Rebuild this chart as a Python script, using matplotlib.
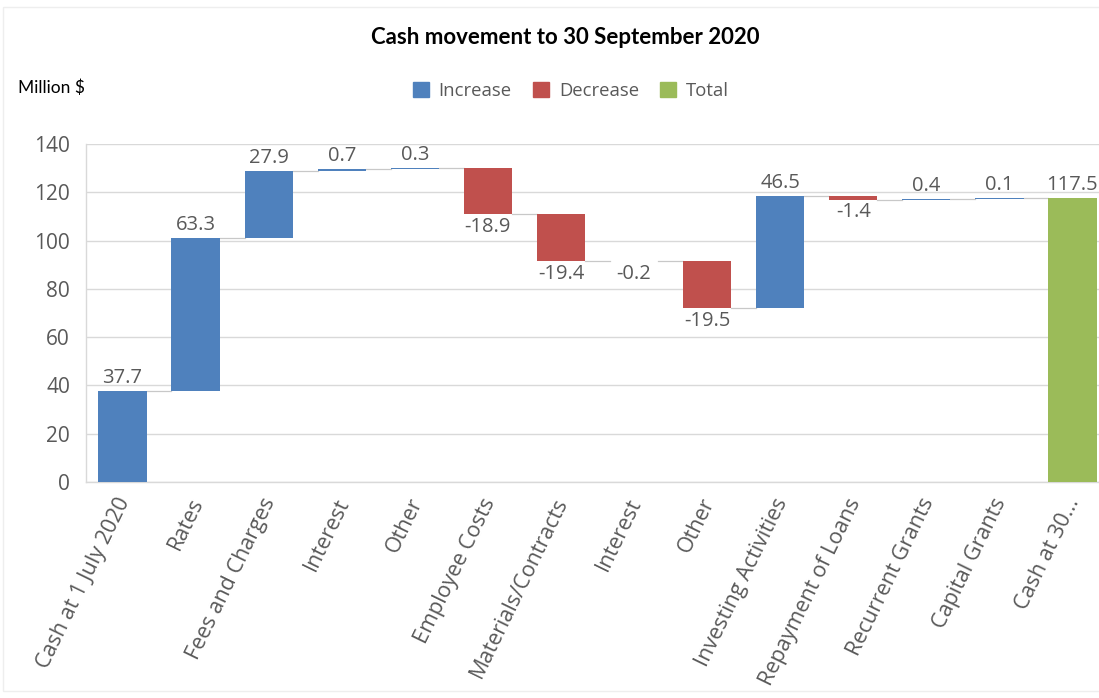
import matplotlib
matplotlib.use("Agg")
import matplotlib.pyplot as plt
from matplotlib.patches import Patch, Rectangle
import numpy as np

categories = ["Cash at 1 July 2020", "Rates", "Fees and Charges", "Interest", "Other",
              "Employee Costs", "Materials/Contracts", "Interest", "Other",
              "Investing Activities", "Repayment of Loans", "Recurrent Grants",
              "Capital Grants", "Cash at 30..."]
changes = [37.7, 63.3, 27.9, 0.7, 0.3, -18.9, -19.4, -0.2, -19.5, 46.5, -1.4, 0.4, 0.1]
total_value = 117.5
y_ticks = [0, 20, 40, 60, 80, 100, 120, 140]

BLUE = "#4F81BD"
RED = "#C0504D"
GREEN = "#9BBB59"
GRAY_TXT = "#595959"
FAM = ["Open Sans", "DejaVu Sans"]

fig = plt.figure(figsize=(10.99, 6.98), dpi=100)
fig.patch.set_facecolor("white")
ax = fig.add_axes([86/1099, (698-482)/698, 1023/1099, 338/698])

n = len(categories)
x = np.arange(n)
width = 0.66

bottoms = []
heights = []
colors = []
running = 0.0
for v in changes:
    if v >= 0:
        bottoms.append(running)
        heights.append(v)
        colors.append(BLUE)
    else:
        bottoms.append(running + v)
        heights.append(-v)
        colors.append(RED)
    running += v
bottoms.append(0)
heights.append(total_value)
colors.append(GREEN)

ax.bar(x, heights, width=width, bottom=bottoms, color=colors, zorder=3)

# connectors
levels = np.cumsum(changes)
for i in range(n - 1):
    lvl = levels[i]
    ax.plot([x[i] + width/2, x[i+1] - width/2], [lvl, lvl], color="#C8C8C8", lw=0.9, zorder=2)

# labels
vals = changes + [total_value]
for i, v in enumerate(vals):
    top = bottoms[i] + heights[i]
    if v >= 0:
        ax.text(x[i], top + 1.2, f"{v:.1f}", ha="center", va="bottom", fontsize=14.5,
                color=GRAY_TXT, family=FAM)
    else:
        ax.text(x[i], bottoms[i] - 1.2, f"{v:.1f}", ha="center", va="top", fontsize=14.5,
                color=GRAY_TXT, family=FAM)

ax.set_ylim(0, 140)
ax.set_xlim(-0.5, n - 0.5)
ax.set_yticks(y_ticks)
ax.set_yticklabels([str(t) for t in y_ticks], fontsize=15, color=GRAY_TXT, family=FAM)
# tick marks are hidden; label anchors shifted slightly left to match reference placement
ax.set_xticks(x - 0.1)
ax.set_xticklabels(categories, rotation=64, ha="right", rotation_mode="anchor",
                   fontsize=15.5, color=GRAY_TXT, family=FAM)
ax.tick_params(axis="both", length=0)
ax.tick_params(axis="y", pad=11.5)
ax.tick_params(axis="x", pad=9)
ax.grid(axis="y", color="#D9D9D9", lw=1, zorder=0)
ax.set_axisbelow(True)
for s in ["top", "right"]:
    ax.spines[s].set_visible(False)
for s in ["left", "bottom"]:
    ax.spines[s].set_color("#D9D9D9")
    ax.spines[s].set_linewidth(1)

fig.text(565/1099, 1 - 37/698, "Cash movement to 30 September 2020", ha="center", va="center",
         fontsize=16, fontweight="bold", family="Lato", color="black")
fig.text(18/1099, 1 - 88/698, "Million $", ha="left", va="center", fontsize=12.5,
         family="Lato", color="black")

handles = [Patch(color=BLUE, label="Increase"), Patch(color=RED, label="Decrease"),
           Patch(color=GREEN, label="Total")]
leg = fig.legend(handles=handles, loc="center", bbox_to_anchor=(571/1099, 1 - 91/698), ncol=3,
                 frameon=False, handlelength=0.85, handleheight=0.85,
                 handletextpad=0.55, columnspacing=1.15, prop={"family": FAM, "size": 13.3})
for t in leg.get_texts():
    t.set_color(GRAY_TXT)

# faint outer frame
fig.patches.append(Rectangle((3/1099, 0.01), 1.2, 1 - 7/698 - 0.01, transform=fig.transFigure,
                             fill=False, edgecolor="#EEEEEE", lw=1))

fig.savefig("out.png", dpi=100)
